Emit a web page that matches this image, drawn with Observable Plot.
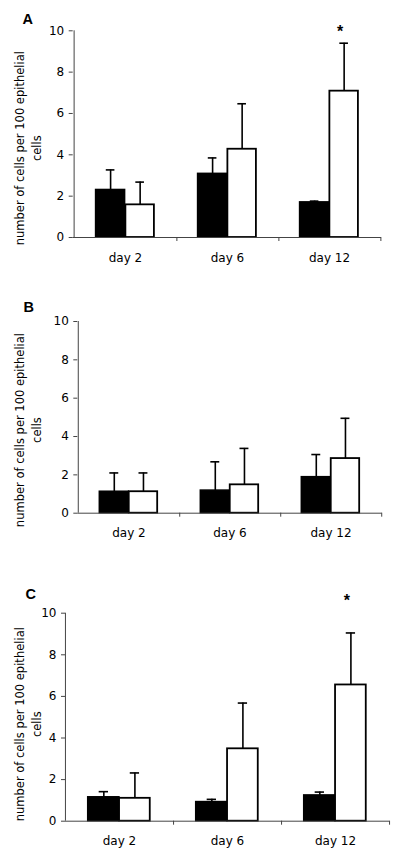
<!DOCTYPE html>
<html>
<head>
<meta charset="utf-8">
<script src="https://cdn.jsdelivr.net/npm/d3@7"></script>
<script src="https://cdn.jsdelivr.net/npm/@observablehq/plot@0.6"></script>
<style>
  html, body { margin: 0; padding: 0; background: #fff; }
  #chart { width: 400px; height: 854px; position: relative; overflow: hidden; }
  .panel svg { display: block; }
</style>
</head>
<body>
<div id="chart"></div>
<script>
// ---- data ----
const days = ["day 2", "day 6", "day 12"];
const yTicks = [0, 2, 4, 6, 8, 10];
const yLabelLines = ["number of cells per 100 epithelial", "cells"];
const panelLetters = ["A", "B", "C"];

const aBlack = [2.30, 3.08, 1.70];
const aBlackErr = [0.97, 0.77, 0.06];
const aWhite = [1.58, 4.27, 7.08];
const aWhiteErr = [1.10, 2.20, 2.32];
const aStars = ["day 12"];

const bBlack = [1.12, 1.18, 1.88];
const bBlackErr = [0.98, 1.50, 1.18];
const bWhite = [1.12, 1.48, 2.85];
const bWhiteErr = [0.98, 1.90, 2.10];
const bStars = [];

const cBlack = [1.15, 0.92, 1.24];
const cBlackErr = [0.27, 0.13, 0.16];
const cWhite = [1.10, 3.48, 6.55];
const cWhiteErr = [1.22, 2.20, 2.50];
const cStars = ["day 12"];

// ---- layout (style only) ----
const layouts = [
  {height: 280, mL: 72.7, mR: 19, mT: 30.3, mB: 43, labelDy: 14, letterX: 22, letterBase: 23.3, starDy: 1.4, xPad: 15.5},
  {height: 280, mL: 77.3, mR: 18.3, mT: 41, mB: 47.3, labelDy: 12.7, letterX: 23, letterBase: 31.7, starDy: 0, xPad: 14.8},
  {height: 294, mL: 65, mR: 10.7, mT: 52.7, mB: 33.3, labelDy: 7, letterX: 25, letterBase: 38.3, starDy: -12.7, xPad: 14.8}
];
const series = [
  {black: aBlack, blackErr: aBlackErr, white: aWhite, whiteErr: aWhiteErr, stars: aStars},
  {black: bBlack, blackErr: bBlackErr, white: bWhite, whiteErr: bWhiteErr, stars: bStars},
  {black: cBlack, blackErr: cBlackErr, white: cWhite, whiteErr: cWhiteErr, stars: cStars}
];

const W = 400;
const FONT = "DejaVu Sans";
const TICK_FS = 12;
const root = document.getElementById("chart");

series.forEach((s, p) => {
  const L = layouts[p];
  const bw = (W - L.mL - L.mR) / days.length;
  const bStart = 0.21, mid = 0.5, wEnd = 0.785;
  const blackC = (bStart + mid) / 2, whiteC = (mid + wEnd) / 2;
  const cap = 4.7;

  const blackRows = days.map((d, i) => ({day: d, value: s.black[i], err: s.blackErr[i]}));
  const whiteRows = days.map((d, i) => ({day: d, value: s.white[i], err: s.whiteErr[i]}));
  const starRows = s.stars.map(d => ({day: d}));

  const errMarks = (rows, c) => [
    Plot.ruleX(rows, {x: "day", y1: "value", y2: d => d.value + d.err, dx: (c - 0.5) * bw, stroke: "#000", strokeWidth: 1.6}),
    Plot.tickY(rows, {x: "day", y: d => d.value + d.err, insetLeft: c * bw - cap, insetRight: bw - c * bw - cap, stroke: "#000", strokeWidth: 1.6})
  ];

  const svg = Plot.plot({
    width: W,
    height: L.height,
    marginLeft: L.mL,
    marginRight: L.mR,
    marginTop: L.mT,
    marginBottom: L.mB,
    style: {fontFamily: FONT, fontSize: TICK_FS + "px", color: "#000", background: "#fff", overflow: "visible"},
    x: {domain: days, padding: 0},
    y: {domain: [0, 10]},
    marks: [
      ...errMarks(blackRows, blackC),
      ...errMarks(whiteRows, whiteC),
      Plot.barY(blackRows, {x: "day", y: "value", insetLeft: bStart * bw, insetRight: (1 - mid) * bw, fill: "#000", stroke: "#000", strokeWidth: 1.5}),
      Plot.barY(whiteRows, {x: "day", y: "value", insetLeft: mid * bw, insetRight: (1 - wEnd) * bw, fill: "#fff", stroke: "#000", strokeWidth: 1.8}),
      Plot.ruleY([0], {stroke: "#444", strokeWidth: 1}),
      Plot.ruleX([days[0]], {dx: -bw / 2, stroke: "#444", strokeWidth: 1}),
      Plot.axisY({ticks: yTicks, tickSize: 4, tickPadding: 5, label: null, stroke: "#444", fill: "#000", fontSize: TICK_FS}),
      Plot.axisX({tickSize: 0, tickPadding: L.xPad, label: null, fill: "#000", fontSize: TICK_FS}),
      Plot.axisX({tickSize: 4, dx: bw / 2, tickFormat: () => "", label: null, stroke: "#444"}),
      Plot.text(starRows, {x: "day", frameAnchor: "top", text: () => "*", dx: (whiteC - 0.5) * bw - 4, dy: L.starDy, lineAnchor: "middle", fontSize: 16, fontWeight: "bold", fontFamily: "Liberation Sans", fill: "#000"}),
      Plot.text([yLabelLines.join("\n")], {frameAnchor: "left", rotate: -90, lineAnchor: "top", textAnchor: "middle", dx: 11.7 - L.mL, dy: L.labelDy, lineHeight: 1.45, fontSize: 11.5, fontFamily: FONT, fill: "#000"}),
      Plot.text([panelLetters[p]], {frameAnchor: "top-left", dx: L.letterX - L.mL, dy: L.letterBase - L.mT, textAnchor: "start", lineAnchor: "bottom", fontSize: 14.5, fontWeight: "bold", fontFamily: "Liberation Sans", fill: "#000"})
    ]
  });
  const div = document.createElement("div");
  div.className = "panel";
  div.appendChild(svg);
  root.appendChild(div);
});
</script>
</body>
</html>
